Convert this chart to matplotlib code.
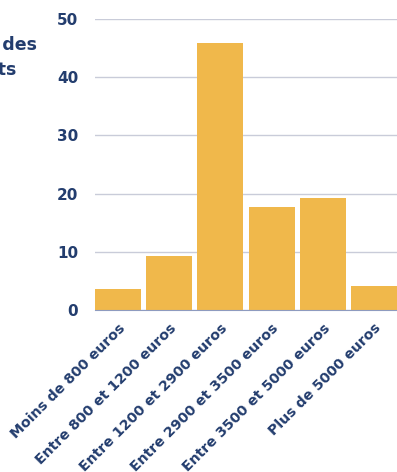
import numpy as np
import matplotlib.pyplot as plt

categories = ["Moins de 800 euros", "Entre 800 et 1200 euros", "Entre 1200 et 2900 euros",
              "Entre 2900 et 3500 euros", "Entre 3500 et 5000 euros", "Plus de 5000 euros"]
values = [3.6, 9.3, 45.9, 17.7, 19.2, 4.1]
yticks = [0, 10, 20, 30, 40, 50]

navy = "#233d6e"
bar_color = "#f0b84b"

plt.rcParams['font.family'] = ['DejaVu Sans']

fig = plt.figure(figsize=(3.97, 4.72), dpi=100)
ax = fig.add_axes([0.239, 0.343, 0.761, 0.617])

x = np.arange(len(categories))
ax.bar(x, values, width=0.9, color=bar_color, zorder=3)

ax.set_xlim(-0.45, len(categories) - 0.55)
ax.set_ylim(0, 50)
ax.set_yticks(yticks)
ax.yaxis.grid(True, color="#c9ccd9", linewidth=1, zorder=0)
for s in ["top", "right", "left"]:
    ax.spines[s].set_visible(False)
ax.spines["bottom"].set_color("#8e9bbf")
ax.spines["bottom"].set_zorder(4)

ax.tick_params(axis="y", length=0, pad=12, labelsize=11, labelcolor=navy)
ax.tick_params(axis="x", length=0, pad=8, labelcolor=navy)
for lab in ax.get_yticklabels():
    lab.set_fontweight("bold")

ax.set_xticks(x)
ax.set_xticklabels(categories, rotation=45, ha="right", rotation_mode="anchor",
                   fontsize=10.2, fontweight="bold")

# axis title, cut off at the left edge as in the original
fig.text(0.093, 0.905, "Pourcentage des", ha="right", va="center",
         fontsize=12.5, fontweight="bold", color=navy)
fig.text(0.043, 0.852, "répondants", ha="right", va="center",
         fontsize=12.5, fontweight="bold", color=navy)

fig.savefig("out.png", dpi=100)
